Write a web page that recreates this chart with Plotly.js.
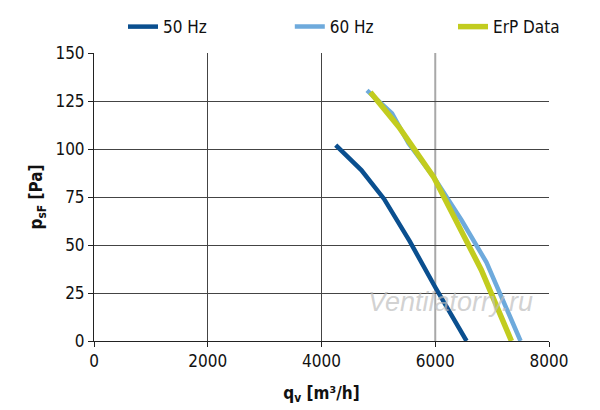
<!DOCTYPE html>
<html>
<head>
<meta charset="utf-8">
<script src="https://cdn.plot.ly/plotly-3.0.1.min.js"></script>
<style>
  html, body { margin: 0; padding: 0; background: #fff; }
  #chart { width: 600px; height: 410px; }
</style>
</head>
<body>
<div id="chart"></div>
<script>
// fan curves
var q50 = [4250, 4700, 5100, 5550, 6000, 6550];
var p50 = [102, 89, 74, 52, 28, 0];

var q60 = [4800, 5240, 5530, 5970, 6460, 6900, 7500];
var p60 = [130.5, 118.5, 103, 85.5, 63, 41, 0];

var qErp = [4860, 5360, 5970, 6810, 7340];
var pErp = [129.5, 111.5, 85.5, 37, 0];

var xTicks = [0, 2000, 4000, 6000, 8000];
var yTicks = [0, 25, 50, 75, 100, 125, 150];
var greyGridX = 6000; // this vertical gridline is drawn lighter in the original

var font = 'DejaVu Sans Condensed, Roboto, sans-serif';

var trace50 = {
    x: q50, y: p50, name: '50 Hz', mode: 'lines', legend: 'legend',
    line: { color: '#0a4f8f', width: 4.5 }
};
var trace60 = {
    x: q60, y: p60, name: '60 Hz', mode: 'lines', legend: 'legend2',
    line: { color: '#6eaadc', width: 4.5 }
};
var traceErp = {
    x: qErp, y: pErp, name: 'ErP Data', mode: 'lines', legend: 'legend3',
    line: { color: '#c2cc1f', width: 5.5 }
};

function legendAt(x) {
    return {
        xref: 'container', yref: 'container',
        x: x, xanchor: 'left', y: 0.934, yanchor: 'middle',
        orientation: 'h', bgcolor: 'rgba(0,0,0,0)',
        font: { family: font, size: 17, color: '#111' }
    };
}

var layout = {
    width: 600, height: 410,
    margin: { l: 94, r: 51, t: 53, b: 69, autoexpand: false },
    paper_bgcolor: '#fff', plot_bgcolor: '#fff',
    font: { family: font, size: 17, color: '#111' },
    showlegend: true,
    legend: legendAt(0.205),
    legend2: legendAt(0.483),
    legend3: legendAt(0.755),
    xaxis: {
        range: [0, 8000], tickvals: xTicks, ticktext: xTicks.map(String),
        showgrid: false,
        minor: {
            tickvals: xTicks.filter(function (v) { return v !== greyGridX; }),
            showgrid: true, gridcolor: '#444', gridwidth: 1, ticks: ''
        },
        showline: true, linecolor: '#222', linewidth: 1, mirror: false,
        ticks: 'outside', ticklen: 5, tickcolor: '#222',
        zeroline: false,
        title: { text: '<b>q<sub>v</sub> [m³/h]</b>', font: { family: font, size: 17 }, standoff: 16 }
    },
    yaxis: {
        range: [0, 150], tickvals: yTicks, ticktext: yTicks.map(String),
        showgrid: true, gridcolor: '#444', gridwidth: 1,
        showline: true, linecolor: '#222', linewidth: 1,
        ticks: 'outside', ticklen: 5, tickcolor: '#222',
        zeroline: false,
        title: { text: '<b>p<sub>sF</sub> [Pa]</b>', font: { family: font, size: 17 }, standoff: 8 }
    },
    shapes: [{
        type: 'line', xref: 'x', yref: 'paper', x0: greyGridX, x1: greyGridX, y0: 0, y1: 1,
        line: { color: '#a8a8a8', width: 2 }, layer: 'below'
    }],
    annotations: [{
        text: '<i>Ventilatorry.ru</i>', xref: 'paper', yref: 'paper',
        x: 0.97, y: 0.135, xanchor: 'right', yanchor: 'middle', showarrow: false,
        font: { family: 'Liberation Sans, sans-serif', size: 27, color: 'rgba(190,190,190,0.7)' }
    }]
};

Plotly.newPlot('chart', [trace50, trace60, traceErp], layout, { displayModeBar: false, staticPlot: true });
</script>
</body>
</html>
